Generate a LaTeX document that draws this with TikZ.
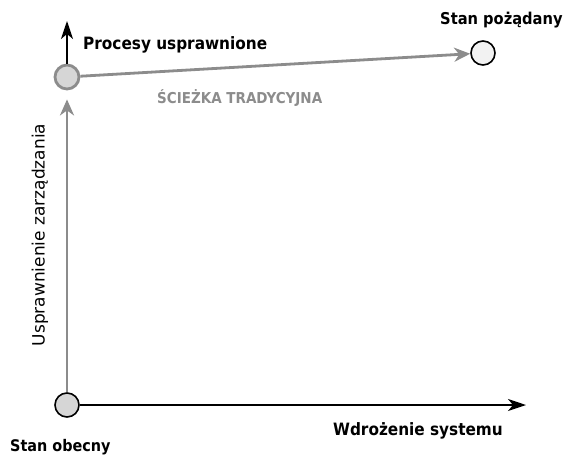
\documentclass[tikz,border=0pt]{standalone}
\usepackage{fontspec}
\setmainfont{DejaVu Sans Condensed}
\newfontfamily\widefont{DejaVu Sans}
\usetikzlibrary{arrows.meta}
\definecolor{pathgray}{gray}{0.55}
\definecolor{fillgray}{gray}{0.84}
\definecolor{fillwhite}{gray}{0.95}
\tikzset{
  state/.style={circle, minimum size=24pt, inner sep=0pt, line width=1.6pt},
  axis/.style={draw=black, line width=1.6pt, -{Stealth[length=18pt,width=12pt,inset=5pt]}},
  grayarrow/.style={draw=pathgray, line width=2.8pt, -{Stealth[length=16pt,width=14pt,inset=5pt]}},
  lbl/.style={font=\bfseries\fontsize{17}{19}\selectfont, inner sep=0pt},
}
\begin{document}
\begin{tikzpicture}[x=1pt,y=-1pt]
\useasboundingbox (0,0) rectangle (570,458);
\node[state, draw=black, fill=fillgray] (o) at (67,405) {};
\node[state, draw=pathgray, fill=fillgray, line width=2.8pt] (p) at (67,77) {};
\node[state, draw=black, fill=fillwhite] (d) at (483,53) {};
\coordinate (xend) at (526,405);
\coordinate (yend) at (67,21);
\draw[axis] (o) -- (xend);
\draw[axis] (p) -- (yend);
\draw[grayarrow, shorten >=9pt] (o) -- (p);
\draw[grayarrow] (p) -- (d);
\node[lbl, anchor=west] (lp) at (83,45) {Procesy usprawnione};
\node[lbl, font=\bfseries\fontsize{16.3}{18}\selectfont, anchor=west] (ld) at (440,20) {Stan pożądany};
\node[lbl, text=pathgray, font=\bfseries\fontsize{15}{17}\selectfont, anchor=west] (lt) at (157,98) {ŚCIEŻKA TRADYCYJNA};
\node[lbl, font=\widefont\fontsize{17}{19}\selectfont, rotate=90] (lu) at (40,235) {Usprawnienie zarządzania};
\node[lbl, font=\bfseries\fontsize{16}{18}\selectfont, anchor=west] (lo) at (10,447) {Stan obecny};
\node[lbl, anchor=east] (lw) at (503,431) {Wdrożenie systemu};
\end{tikzpicture}
\end{document}
